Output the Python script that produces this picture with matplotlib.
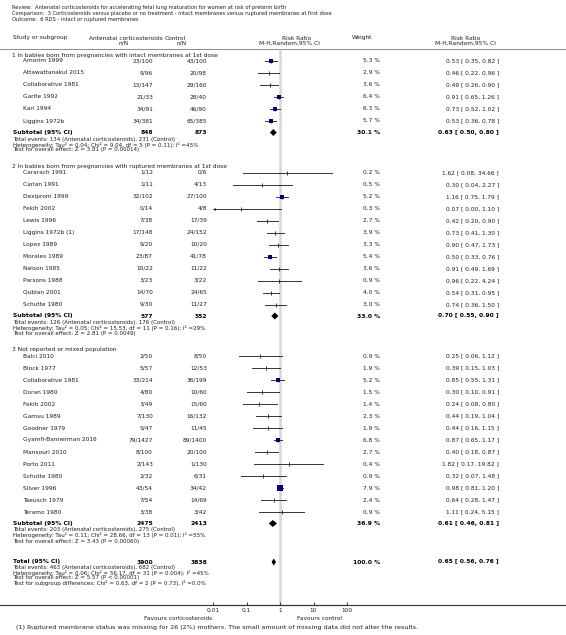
import matplotlib
matplotlib.use("Agg")
import matplotlib.pyplot as plt

# header text
review = "Review:  Antenatal corticosteroids for accelerating fetal lung maturation for women at risk of preterm birth"
comparison = "Comparison:  3 Corticosteroids versus placebo or no treatment - intact membranes versus ruptured membranes at first dose"
outcome = "Outcome:  6 RDS - intact or ruptured membranes"

# studies (group, name, n/N treated, n/N control, weight %, RR, CI)
study_group = [1, 1, 1, 1, 1, 1,
               2, 2, 2, 2, 2, 2, 2, 2, 2, 2, 2, 2,
               3, 3, 3, 3, 3, 3, 3, 3, 3, 3, 3, 3, 3, 3]
study_names = ["Amorim 1999", "Attawattanakul 2015", "Collaborative 1981", "Garite 1992", "Kari 1994", "Liggins 1972b",
               "Cararach 1991", "Carlan 1991", "Dexiprom 1999", "Fekih 2002", "Lewis 1996", "Liggins 1972b (1)",
               "Lopez 1989", "Morales 1989", "Nelson 1985", "Parsons 1988", "Qublan 2001", "Schutte 1980",
               "Balci 2010", "Block 1977", "Collaborative 1981", "Doran 1980", "Fekih 2002", "Gamsu 1989",
               "Goodner 1979", "Gyamfi-Bannerman 2016", "Mansouri 2010", "Porto 2011", "Schutte 1980",
               "Silver 1996", "Taeusch 1979", "Teramo 1980"]
exp_n = [23, 9, 13, 21, 34, 34,
         1, 1, 32, 0, 7, 17, 9, 23, 10, 3, 14, 9,
         2, 5, 33, 4, 3, 7, 5, 79, 8, 2, 2, 43, 7, 3]
exp_N = [100, 96, 147, 33, 91, 381,
         12, 11, 102, 14, 38, 148, 20, 87, 22, 23, 70, 30,
         50, 57, 214, 80, 49, 130, 47, 1427, 100, 143, 32, 54, 54, 38]
ctl_n = [43, 20, 29, 28, 46, 65,
         0, 4, 27, 4, 17, 24, 10, 41, 11, 3, 24, 11,
         8, 12, 36, 10, 15, 16, 11, 89, 20, 1, 6, 34, 14, 3]
ctl_N = [100, 98, 160, 40, 90, 385,
         6, 13, 100, 8, 39, 152, 20, 78, 22, 22, 65, 27,
         50, 53, 199, 60, 60, 132, 45, 1400, 100, 130, 31, 42, 69, 42]
weights = [5.3, 2.9, 3.6, 6.4, 6.3, 5.7,
           0.2, 0.5, 5.2, 0.3, 2.7, 3.9, 3.3, 5.4, 3.6, 0.9, 4.0, 3.0,
           0.9, 1.9, 5.2, 1.5, 1.4, 2.3, 1.9, 6.8, 2.7, 0.4, 0.9, 7.9, 2.4, 0.9]
rr = [0.53, 0.46, 0.49, 0.91, 0.73, 0.53,
      1.62, 0.30, 1.16, 0.07, 0.42, 0.73, 0.90, 0.50, 0.91, 0.96, 0.54, 0.74,
      0.25, 0.39, 0.85, 0.30, 0.24, 0.44, 0.44, 0.87, 0.40, 1.82, 0.32, 0.98, 0.64, 1.11]
rr_lo = [0.35, 0.22, 0.26, 0.65, 0.52, 0.36,
         0.08, 0.04, 0.75, 0.00, 0.20, 0.41, 0.47, 0.33, 0.49, 0.22, 0.31, 0.36,
         0.06, 0.15, 0.55, 0.10, 0.08, 0.19, 0.16, 0.65, 0.18, 0.17, 0.07, 0.81, 0.28, 0.24]
rr_hi = [0.82, 0.96, 0.90, 1.26, 1.02, 0.78,
         34.66, 2.27, 1.79, 1.10, 0.90, 1.30, 1.73, 0.76, 1.69, 4.24, 0.95, 1.50,
         1.12, 1.03, 1.31, 0.91, 0.80, 1.04, 1.15, 1.17, 0.87, 19.82, 1.48, 1.20, 1.47, 5.15]

# subgroups
group_titles = ["1 In babies born from pregnancies with intact membranes at 1st dose",
                "2 In babies born from pregnancies with ruptured membranes at 1st dose",
                "3 Not reported or mixed population"]
sub_exp_N = [848, 577, 2475]
sub_ctl_N = [873, 552, 2413]
sub_weight = [30.1, 33.0, 36.9]
sub_rr = [0.63, 0.70, 0.61]
sub_lo = [0.50, 0.55, 0.46]
sub_hi = [0.80, 0.90, 0.81]
sub_events_exp = [134, 126, 203]
sub_events_ctl = [231, 176, 275]
sub_hetero = ["Tau\u00b2 = 0.04; Chi\u00b2 = 9.04, df = 5 (P = 0.11); I\u00b2 =45%",
              "Tau\u00b2 = 0.05; Chi\u00b2 = 15.53, df = 11 (P = 0.16); I\u00b2 =29%",
              "Tau\u00b2 = 0.11; Chi\u00b2 = 28.66, df = 13 (P = 0.01); I\u00b2 =55%"]
sub_effect = ["Z = 3.81 (P = 0.00014)", "Z = 2.81 (P = 0.0049)", "Z = 3.43 (P = 0.00060)"]

# overall
total_exp_N = 3900
total_ctl_N = 3838
total_weight = 100.0
total_rr, total_lo, total_hi = 0.65, 0.56, 0.76
total_events_exp, total_events_ctl = 463, 682
total_hetero = "Tau\u00b2 = 0.06; Chi\u00b2 = 56.17, df = 31 (P = 0.004); I\u00b2 =45%"
total_effect = "Z = 5.57 (P < 0.00001)"
subgroup_diff = "Chi\u00b2 = 0.63, df = 2 (P = 0.73), I\u00b2 =0.0%"

tick_values = [0.01, 0.1, 1, 10, 100]
tick_labels = ["0.01", "0.1", "1", "10", "100"]
footnote = "(1) Ruptured membrane status was missing for 26 (2%) mothers. The small amount of missing data did not alter the results."

W, H = 566, 635
FS = 4.2
TXT = "#1e1e1e"
LINE = "#333333"
BLUE = "#00007a"


def rr_text(r, lo, hi):
    return "{:.2f} [ {:.2f}, {:.2f} ]".format(r, lo, hi)


def main():
    fig = plt.figure(figsize=(W / 100, H / 100), dpi=100)

    # table axes in pixel units
    tab = fig.add_axes([0, 0, 1, 1])
    tab.set_xlim(0, W)
    tab.set_ylim(H, 0)
    tab.axis("off")

    # forest axes: log scale, y in same pixel rows
    axis_y = 605
    forest = fig.add_axes([213 / W, (H - axis_y) / H, 134 / W, axis_y / H])
    forest.set_xscale("log")
    forest.set_xlim(0.01, 100)
    forest.set_ylim(axis_y, 0)
    forest.patch.set_alpha(0)
    for s in ["top", "left", "right"]:
        forest.spines[s].set_visible(False)
    forest.spines["bottom"].set_color(LINE)
    forest.spines["bottom"].set_linewidth(0.8)
    forest.set_yticks([])
    forest.set_xticks(tick_values)
    forest.set_xticklabels(tick_labels)
    forest.xaxis.set_minor_locator(plt.NullLocator())
    forest.tick_params(axis="x", direction="in", length=2.5, width=0.6,
                       labelsize=FS, pad=2, colors=TXT)

    kw = dict(fontsize=FS, color=TXT, va="center")
    small = dict(fontsize=4.0, color=TXT, va="center")
    title = dict(fontsize=3.7, color=TXT, va="center")

    # titles
    tab.text(12, 8, review, **title)
    tab.text(12, 14, comparison, **title)
    tab.text(12, 20, outcome, **title)

    # column headers
    tab.text(13, 38, "Study or subgroup", **kw)
    tab.text(89, 38, "Antenatal corticosteroids", **kw)
    tab.text(165, 38, "Control", **kw)
    tab.text(124, 43, "n/N", ha="center", **kw)
    tab.text(182, 43, "n/N", ha="center", **kw)
    tab.text(297, 38, "Risk Ratio", ha="center", **kw)
    tab.text(289, 43, "M-H,Random,95% CI", ha="center", **kw)
    tab.text(362, 38, "Weight", ha="center", **kw)
    tab.text(466, 38, "Risk Ratio", ha="center", **kw)
    tab.text(465, 43, "M-H,Random,95% CI", ha="center", **kw)
    tab.plot([0, W], [49, 49], color="#8a8a8a", lw=0.7)

    # null line
    forest.vlines(1, 49, axis_y, color="#d6d6d6", lw=1.8, zorder=0)

    bold = dict(fontsize=FS + 0.1, color="#000000", va="center", fontweight="bold")

    y = 55
    for g in range(3):
        tab.text(12, y, group_titles[g], **kw)
        y += 6
        idx = [i for i in range(len(study_names)) if study_group[i] == g + 1]
        for i in idx:
            tab.text(23, y, study_names[i], **kw)
            tab.text(153, y, "{}/{}".format(exp_n[i], exp_N[i]), ha="right", **kw)
            tab.text(207, y, "{}/{}".format(ctl_n[i], ctl_N[i]), ha="right", **kw)
            tab.text(380, y, "{:.1f} %".format(weights[i]), ha="right", **kw)
            tab.text(499, y, rr_text(rr[i], rr_lo[i], rr_hi[i]), ha="right", **kw)

            lo = max(rr_lo[i], 0.01)
            hi = min(rr_hi[i], 100)
            forest.plot([lo, hi], [y, y], color=LINE, lw=0.7)
            if rr_lo[i] < 0.01:
                forest.plot(0.0108, y, marker="<", ms=2.2, color=LINE, mew=0)
            forest.plot(rr[i], y, marker="|", ms=3.4, mew=0.7, color=LINE)
            if weights[i] >= 5:
                forest.plot(rr[i], y, marker="s", ms=1.35 * weights[i] ** 0.5,
                            color=BLUE, mew=0)
            y += 12
        y -= 0.5
        tab.text(13, y, "Subtotal (95% CI)", **bold)
        tab.text(153, y, str(sub_exp_N[g]), ha="right", **bold)
        tab.text(207, y, str(sub_ctl_N[g]), ha="right", **bold)
        tab.text(380, y, "{:.1f} %".format(sub_weight[g]), ha="right", **bold)
        tab.text(499, y, rr_text(sub_rr[g], sub_lo[g], sub_hi[g]), ha="right", **bold)
        forest.fill([sub_lo[g], sub_rr[g], sub_hi[g], sub_rr[g]],
                    [y, y - 3.5, y, y + 3.5], color="black", lw=0)
        tab.text(13, y + 6.5, "Total events: {} (Antenatal corticosteroids), {} (Control)".format(
            sub_events_exp[g], sub_events_ctl[g]), **small)
        tab.text(13, y + 12, "Heterogeneity: " + sub_hetero[g], **small)
        tab.text(13, y + 17.5, "Test for overall effect: " + sub_effect[g], **small)
        y += 34

    # overall total
    y = 562
    tab.text(13, y, "Total (95% CI)", **bold)
    tab.text(153, y, str(total_exp_N), ha="right", **bold)
    tab.text(207, y, str(total_ctl_N), ha="right", **bold)
    tab.text(380, y, "{:.1f} %".format(total_weight), ha="right", **bold)
    tab.text(499, y, rr_text(total_rr, total_lo, total_hi), ha="right", **bold)
    forest.fill([total_lo, total_rr, total_hi, total_rr],
                [y, y - 3.5, y, y + 3.5], color="black", lw=0)
    tab.text(13, y + 6, "Total events: {} (Antenatal corticosteroids), {} (Control)".format(
        total_events_exp, total_events_ctl), **small)
    tab.text(13, y + 11, "Heterogeneity: " + total_hetero, **small)
    tab.text(13, y + 16, "Test for overall effect: " + total_effect, **small)
    tab.text(13, y + 21, "Test for subgroup differences: " + subgroup_diff, **small)

    # bottom axis rule and labels
    tab.plot([0, W], [axis_y, axis_y], color=LINE, lw=0.8)
    tab.text(212, 618, "Favours corticosteroids", ha="right", **kw)
    tab.text(297, 618, "Favours control", ha="left", **kw)
    tab.text(16, 627, footnote, fontsize=4.6, color=TXT, va="center")

    fig.savefig("out.png", dpi=100)


if __name__ == '__main__':
    main()
